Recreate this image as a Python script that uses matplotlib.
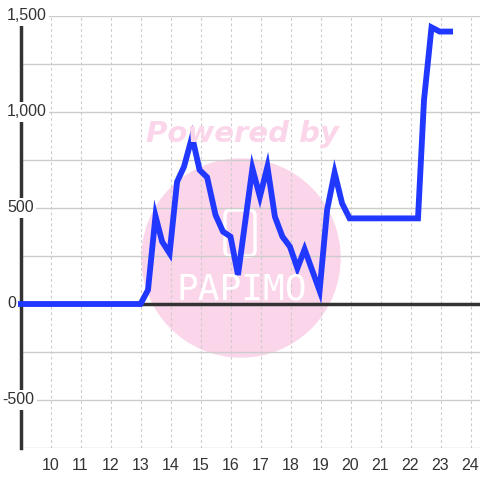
import matplotlib.pyplot as plt
from matplotlib.patches import Circle, FancyBboxPatch

# ---------- DATA ----------
hours = [8.88, 13.0, 13.25, 13.5, 13.72, 13.97, 14.22, 14.45, 14.72, 14.97, 15.22,
         15.5, 15.75, 16.0, 16.25, 16.73, 16.98, 17.23, 17.48, 17.73, 17.98,
         18.23, 18.47, 18.72, 18.97, 19.22, 19.47, 19.72, 19.97, 22.25, 22.45,
         22.7, 22.97, 23.32]
values = [0, 0, 73, 458, 325, 264, 637, 715, 871, 698, 660,
          464, 377, 351, 151, 706, 559, 715, 455, 351, 299,
          186, 285, 177, 69, 490, 684, 524, 446, 446, 1062,
          1441, 1419, 1419]

x_ticks = list(range(10, 25))
y_grid = list(range(-750, 1501, 250))
y_labels = {1500: "1,500", 1000: "1,000", 500: "500", 0: "0", -500: "-500"}

# ---------- PLOT ----------
plt.rcParams["font.family"] = ["Liberation Sans", "DejaVu Sans"]
fig = plt.figure(figsize=(4.8, 4.8), dpi=100)
ax = fig.add_axes([20.5 / 480, 32 / 480, 459 / 480, 432 / 480])
ax.set_xlim(9, 24.3)
ax.set_ylim(-750, 1500)

# watermark
pink = "#fbd5ea"
ax.add_patch(Circle((241 / 480, 1 - 258 / 480), 99 / 480, transform=fig.transFigure,
                    color=pink, zorder=0.2, clip_on=False))
fig.text(242 / 480, 1 - 134 / 480, "Powered by", color=pink, fontsize=21,
         fontweight="heavy", fontstyle="italic", ha="center", va="center",
         family="DejaVu Sans", zorder=0.3)
fig.text(242 / 480, 1 - 290 / 480, "PAPIMO", color="white", fontsize=26,
         family="DejaVu Sans Mono", ha="center", va="center", zorder=0.3)
ax.add_patch(FancyBboxPatch((225 / 480, 1 - 256 / 480), 30 / 480, 46 / 480,
                            boxstyle="round,pad=0,rounding_size=0.012",
                            transform=fig.transFigure, fill=False, ec="white",
                            lw=2.5, zorder=0.3, clip_on=False))

# grid
for v in y_grid:
    if v != 0:
        ax.axhline(v, color="#cccccc", lw=1, zorder=1)
for x in x_ticks:
    ax.axvline(x, color="#cccccc", lw=0.8, ls=(0, (2.5, 2.5)), zorder=1)
ax.axhline(0, color="#333333", lw=2.5, zorder=2)

ax.plot(hours, values, color="#2038ff", lw=4.2, zorder=3, clip_on=False,
        solid_joinstyle="miter")

for s in ["top", "right", "bottom"]:
    ax.spines[s].set_visible(False)
ax.spines["left"].set_color("#333333")
ax.spines["left"].set_linewidth(2.5)
ax.spines["left"].set_zorder(2)

ax.set_xticks(x_ticks)
ax.set_yticks([])
ax.tick_params(axis="x", length=0, labelsize=11.5, labelcolor="#333333", pad=7)

for v, lab in y_labels.items():
    xpos = -0.039 if v < 0 else -0.029
    ax.text(xpos, v, lab, transform=ax.get_yaxis_transform(), ha="left",
            va="center", fontsize=11.5, color="#333333", zorder=4,
            bbox=dict(boxstyle="square,pad=0.15", fc="white", ec="none"))

fig.savefig("out.png", dpi=100)
